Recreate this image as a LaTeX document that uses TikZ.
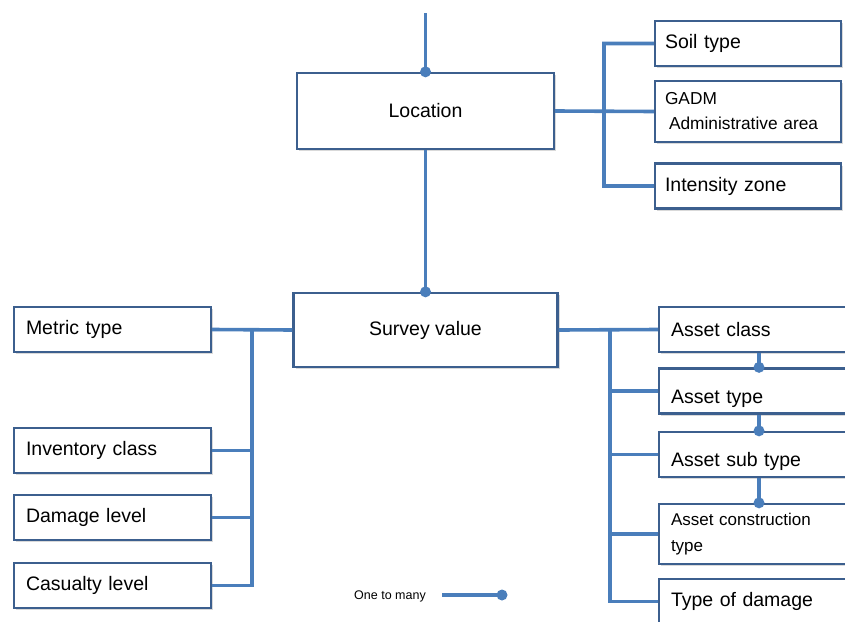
\documentclass[tikz,border=0pt]{standalone}
\usepackage{fontspec}
\setmainfont{Liberation Sans}
\usetikzlibrary{shadows}
\definecolor{boxline}{HTML}{3C5F8E}
\definecolor{linkblue}{HTML}{4A7EBB}
\begin{document}
\begin{tikzpicture}[x=1pt,y=-1pt,
	box/.style={draw=boxline,line width=2.3pt,fill=white,minimum height=45,
		drop shadow={shadow xshift=2pt,shadow yshift=-2pt,opacity=.3},
		font=\fontsize{19.5}{23}\selectfont},
	leftbox/.style={box,text width=#1-24,inner xsep=12pt,align=left},
	low/.style={text height=26pt,text depth=2pt},
	link/.style={linkblue,line width=3.6pt},
	dot/.style={fill=linkblue}]
	\useasboundingbox (0,0) rectangle (845,621) ;
	\clip (0,0) rectangle (845,621) ;
	% middle column
	\node[box,minimum width=257,minimum height=76] (loc) at (425.5,111) {Location} ;
	\node[box,minimum width=264,minimum height=74] (sv) at (425.5,330) {Survey value} ;
	\coordinate (top) at (425.5,13) ;
	% location attributes
	\node[leftbox=190,inner xsep=10pt] (soil) at (748,43.5) {Soil type} ;
	\node[leftbox=190,inner xsep=10pt,minimum height=61,font=\fontsize{17.3}{25}\selectfont] (gadm) at (748,111.5) {GADM\\\hspace*{4pt}Administrative area} ;
	\node[leftbox=190,inner xsep=10pt] (zone) at (748,186) {Intensity zone} ;
	% survey attributes, left
	\node[leftbox=197] (metric) at (112.5,329.5) {Metric type} ;
	\node[leftbox=197] (inv) at (112.5,450.5) {Inventory class} ;
	\node[leftbox=197] (dmg) at (112.5,517.5) {Damage level} ;
	\node[leftbox=197] (cas) at (112.5,585.5) {Casualty level} ;
	% survey attributes, right
	\node[leftbox=200] (aclass) at (759,329.5) {Asset class} ;
	\node[leftbox=200,low] (atype) at (759,391) {Asset type} ;
	\node[leftbox=200,low] (asub) at (759,454.5) {Asset sub type} ;
	\node[leftbox=200,minimum height=60,font=\fontsize{17}{26}\selectfont] (acons) at (759,534) {Asset construction\\type} ;
	\node[leftbox=200] (tdmg) at (759,601.5) {Type of damage} ;
	% bus lines
	\coordinate (tbus) at (604,111) ;
	\coordinate (lbus) at (252,329.5) ;
	\coordinate (rbus) at (610,329.5) ;
	\draw[link] (top) -- (loc.north) (loc.south) -- (sv.north) ;
	\draw[link] (loc.east) -- (gadm.west) (soil.west) -| (tbus) |- (zone.west) ;
	\draw[link] (sv.west) -- (metric.east) ;
	\draw[link] (lbus) |- (cas.east) (inv.east) -| (lbus) (dmg.east) -| (lbus) ;
	\draw[link] (sv.east) -- (aclass.west) ;
	\draw[link] (rbus) |- (tdmg.west) (atype.west) -| (rbus) (asub.west) -| (rbus) (acons.west) -| (rbus) ;
	\draw[link] (aclass.south) -- (atype.north) (atype.south) -- (asub.north) (asub.south) -- (acons.north) ;
	\fill[dot] (loc.north) circle[radius=5.5] (sv.north) circle[radius=5.5]
		(atype.north) circle[radius=5.5] (asub.north) circle[radius=5.5] (acons.north) circle[radius=5.5] ;
	% legend
	\node[font=\fontsize{12.5}{14}\selectfont] (legend) at (390,596.5) {One to many} ;
	\coordinate (lgend) at (502,595) ;
	\draw[link] (legend.east) ++(13,-1.5) -- (lgend) ;
	\fill[dot] (lgend) circle[radius=5.5] ;
\end{tikzpicture}
\end{document}
